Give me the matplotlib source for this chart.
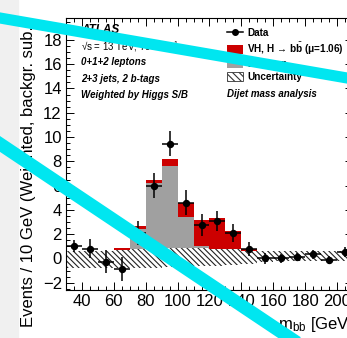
import numpy as np
import matplotlib
matplotlib.use("Agg")
import matplotlib.pyplot as plt
from matplotlib.patches import Patch, Rectangle
from matplotlib.lines import Line2D

plt.rcParams['font.family'] = ['Liberation Sans', 'DejaVu Sans']
plt.rcParams['mathtext.fontset'] = 'custom'
plt.rcParams['mathtext.rm'] = 'Liberation Sans'
plt.rcParams['mathtext.it'] = 'Liberation Sans:italic'
plt.rcParams['mathtext.bf'] = 'Liberation Sans:bold'
plt.rcParams['hatch.linewidth'] = 0.8

# bins of 10 GeV in m_bb
edges = np.arange(30, 211, 10)
centers = edges[:-1] + 5

# background-subtracted data
data_y = [1.05, 0.8, -0.27, -0.85, 2.1, 6.0, 9.45, 4.6, 2.75, 3.1,
          2.1, 0.77, 0.0, 0.0, 0.1, 0.33, -0.13, 0.53]
data_err = [0.5, 0.8, 0.95, 1.0, 1.0, 1.05, 1.05, 1.0, 0.9, 0.8,
            0.75, 0.6, 0.45, 0.4, 0.35, 0.35, 0.3, 0.4]

# stacked expectations
diboson = [0.0, 0.0, 0.05, 0.1, 2.45, 6.2, 7.65, 3.45, 1.0, 0.47,
           0.4, 0.3, 0.05, 0.03, 0.02, 0.0, 0.0, 0.0]
vh = [0.03, 0.2, 0.5, 0.8, 0.18, 0.28, 0.55, 1.15, 2.2, 2.9,
      1.82, 0.5, 0.2, 0.12, 0.05, 0.03, 0.02, 0.01]

# background uncertainty band (lower / upper edge)
unc_lo = [-0.8, -0.8, -0.8, -0.8, -0.75, -0.75, -0.7, -0.7, -0.65, -0.6,
          -0.55, -0.45, -0.3, -0.25, -0.25, -0.25, -0.25, -0.25]
unc_hi = [0.65, 0.65, 0.65, 0.7, 0.75, 0.8, 0.85, 0.85, 0.85, 0.8,
          0.75, 0.65, 0.6, 0.6, 0.6, 0.6, 0.6, 0.6]

red = '#cc0000'
grey = '#a0a0a0'

fig = plt.figure(figsize=(3.47, 3.38), dpi=100)
fig.patches.append(Rectangle((0, 0), 18 / 347, 1, transform=fig.transFigure,
                             color='#f0f0f0', zorder=-5))

ax = fig.add_axes([66 / 347, 48 / 338, 287 / 347, 272 / 338])

ax.bar(centers, diboson, width=10, color=grey, linewidth=0, zorder=1)
ax.bar(centers, vh, width=10, bottom=diboson, color=red, linewidth=0, zorder=1)
band_h = np.array(unc_hi) - np.array(unc_lo)
ax.bar(centers, band_h, width=10, bottom=unc_lo, facecolor='white',
       hatch='\\\\\\\\\\\\', edgecolor='#222222', linewidth=0, zorder=2)
ax.errorbar(centers, data_y, yerr=data_err, xerr=5, fmt='o', color='black',
            markersize=4.3, elinewidth=1.1, capsize=0, zorder=3)

ax.set_xlim(30, 210)
ax.set_ylim(-2.6, 19.8)
ax.set_xticks(np.arange(40, 201, 20))
ax.set_xticks(np.arange(30, 211, 5), minor=True)
ax.set_yticks(np.arange(-2, 19, 2))
ax.set_yticks(np.arange(-2.5, 20, 0.5), minor=True)
ax.tick_params(which='both', direction='in', top=True, right=True,
               labelsize=12, width=0.7)
ax.tick_params(which='major', length=5.8, pad=3)
ax.tick_params(which='minor', length=2.9)
for s in ax.spines.values():
    s.set_linewidth(0.8)

ax.set_xlabel('m$_{\\mathrm{bb}}$ [GeV]', fontsize=12, ha='right', x=1.0)
fig.text(28.5 / 347, 1 - 327 / 338, 'Events / 10 GeV (Weighted, backgr. sub.)',
         rotation=90, ha='center', va='bottom', fontsize=12)

# labels
tx = 81 / 347
fig.text(tx, 1 - 30 / 338, 'ATLAS', fontsize=8.5, fontweight='bold',
         style='italic', va='center')
fig.text(tx, 1 - 47 / 338, '√s = 13 TeV, 79.8 fb$^{-1}$', fontsize=7, va='center')
for lab, yy in [('0+1+2 leptons', 62), ('2+3 jets, 2 b-tags', 79),
                ('Weighted by Higgs S/B', 95)]:
    fig.text(tx, 1 - yy / 338, lab, fontsize=7, fontweight='bold',
             style='italic', va='center')
fig.text(227 / 347, 1 - 94 / 338, 'Dijet mass analysis', fontsize=7,
         fontweight='bold', style='italic', va='center')

handles = [
    Line2D([0], [0], color='black', marker='o', markersize=4, lw=1.1),
    Patch(facecolor=red, edgecolor='none'),
    Patch(facecolor=grey, edgecolor='none'),
    Patch(facecolor='white', edgecolor='#333333', hatch='\\\\\\\\\\', lw=0.6),
]
labels = ['Data', 'VH, H → b$\\bar{\\mathbf{b}}$ (μ=1.06)', 'Diboson', 'Uncertainty']
leg = ax.legend(handles, labels, loc='upper left',
                bbox_to_anchor=(227 / 347, 1 - 28 / 338),
                bbox_transform=fig.transFigure, frameon=False,
                prop={'size': 7.2, 'weight': 'bold'}, borderpad=0,
                borderaxespad=0, handlelength=1.6, handleheight=1.0,
                handletextpad=0.4, labelspacing=0.25)

# overlay strokes
cyan = '#00e6f0'
fig.add_artist(Line2D([-0.05, 1.05], [1 - 15 / 338, 1 - 81 / 338],
                      transform=fig.transFigure, color=cyan, lw=8, zorder=10))
fig.add_artist(Line2D([-17 / 347, 320 / 347], [1 - 132.6 / 338, 1 - 358 / 338],
                      transform=fig.transFigure, color=cyan, lw=9.5, zorder=10))

fig.savefig('out.png', dpi=100)
